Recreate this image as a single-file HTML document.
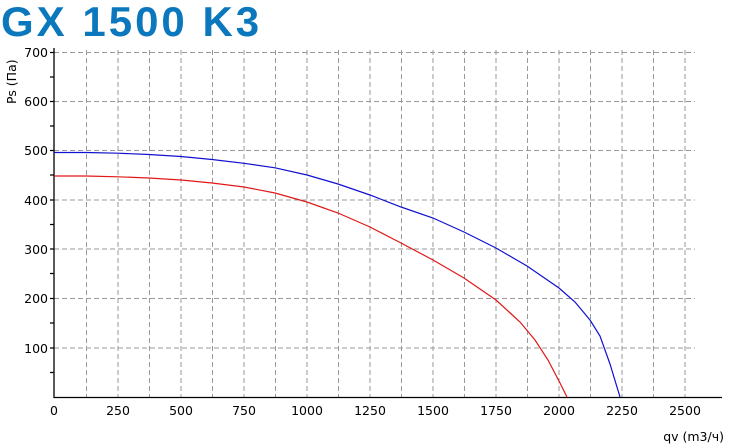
<!DOCTYPE html>
<html><head><meta charset="utf-8"><style>
body{margin:0;background:#fff;width:731px;height:447px;overflow:hidden}
svg{display:block}
text{font-family:"DejaVu Sans","Liberation Sans",sans-serif;font-size:12.5px;fill:#000}
</style></head><body>
<svg width="731" height="447" viewBox="0 0 731 447">
<text x="1" y="36" style="font-family:'Liberation Sans',sans-serif;font-weight:bold;font-size:42px;letter-spacing:3px;fill:#0b78be">GX 1500 K3</text>
<g stroke="#999" stroke-width="1" stroke-dasharray="5,3" fill="none">
<path d="M86.5 50V397M118 50V397M149.5 50V397M181 50V397M212.5 50V397M244 50V397M275.5 50V397M307 50V397M338.5 50V397M370 50V397M401.5 50V397M433 50V397M464.5 50V397M496 50V397M527.5 50V397M559 50V397M590.5 50V397M622 50V397M653.5 50V397M685 50V397"/>
<path d="M54 52.5H695M54 101.5H695M54 150.5H695M54 200H695M54 249H695M54 298.5H695M54 348H695"/>
</g>
<g stroke="#000" stroke-width="1.3" fill="none">
<path d="M54 48V397.5H722"/>
<path d="M50 52.5H54M50 77H54M50 101.5H54M50 126H54M50 150.5H54M50 175H54M50 200H54M50 224.5H54M50 249H54M50 273.5H54M50 298.5H54M50 323H54M50 348H54M50 372.5H54"/>
</g>
<g text-anchor="end">
<text x="48" y="57">700</text><text x="48" y="106">600</text><text x="48" y="155">500</text>
<text x="48" y="205">400</text><text x="48" y="254">300</text><text x="48" y="303">200</text><text x="48" y="353">100</text>
</g>
<text transform="translate(16,104) rotate(-90)">Ps (Па)</text>
<g text-anchor="middle">
<text x="54" y="415">0</text><text x="118" y="415">250</text><text x="181" y="415">500</text><text x="244" y="415">750</text>
<text x="307" y="415">1000</text><text x="370" y="415">1250</text><text x="433" y="415">1500</text><text x="496" y="415">1750</text>
<text x="559" y="415">2000</text><text x="622" y="415">2250</text><text x="685" y="415">2500</text>
</g>
<text x="724" y="441" text-anchor="end">qv (m3/ч)</text>
<polyline fill="none" stroke="#1010d0" stroke-width="1.2" points="54,152.5 86,152.5 118,153.2 149,154.5 181,156.5 212,159.5 244,163.3 275,167.8 307,175 338,184 370,195 401,207 433,218 464,232 496,248 527,266 559,288 575,302 590,320 600,336 610,364 620,397"/>
<polyline fill="none" stroke="#e01818" stroke-width="1.2" points="54,176 86,176 118,176.8 149,178 181,180 212,183 244,187 275,193 307,202 338,213 370,227 401,243 433,260 464,278 496,300 520,322 535,340 548,360 560,383 567,397"/>
</svg>
</body></html>
